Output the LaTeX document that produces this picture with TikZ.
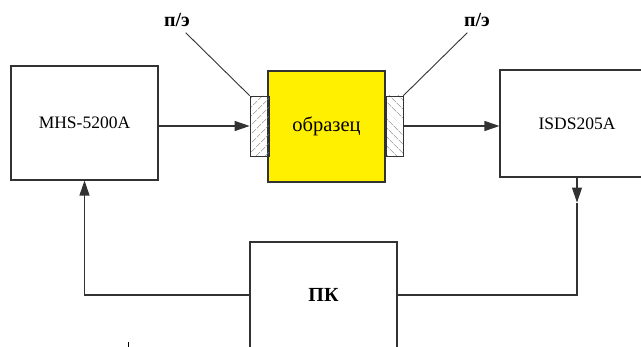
\documentclass[tikz,border=0pt]{standalone}
\usepackage{fontspec}
\setmainfont{Liberation Serif}
\usetikzlibrary{positioning,arrows.meta,patterns.meta}
\definecolor{sampleyellow}{RGB}{255,240,0}
\definecolor{edgegray}{RGB}{50,50,50}
\newcommand{\pelabel}{п/э}

\begin{document}
\begin{tikzpicture}[x=1pt,y=-1pt,
    every node/.style={font=\fontsize{17.5}{20}\selectfont},
    block/.style={draw=edgegray,line width=1.1pt,inner sep=0pt},
    probe/.style={draw=edgegray,line width=0.9pt,inner sep=0pt,minimum height=60pt},
    arr/.style={-{Triangle[length=15pt,width=10pt]},line width=1.1pt,draw=edgegray},
    leader/.style={line width=0.9pt,draw=edgegray},
    pelbl/.style={font=\fontsize{20}{22}\bfseries}]
  \useasboundingbox (0,0) rectangle (641,347);
  \node[block,minimum width=147pt,minimum height=114pt] (gen) at (84.5,123) {MHS-5200A};
  \node[block,fill=sampleyellow,minimum width=117pt,minimum height=111pt,font=\fontsize{20.5}{22}\selectfont] (sample) at (326.5,126.5) {образец};
  \node[probe,minimum width=19pt,pattern={Lines[angle=45,distance=6.5pt,line width=0.7pt]},pattern color=gray] (pel) at (259.5,126) {};
  \node[probe,minimum width=17pt,pattern={Lines[angle=-45,distance=6.5pt,line width=0.7pt]},pattern color=gray] (per) at (394.5,126) {};
  \node[block,minimum width=154pt,minimum height=107pt] (osc) at (577,123.5) {ISDS205A};
  \node[block,minimum width=147pt,minimum height=120pt] (pc) at (323.5,302) {};
  \node[font=\fontsize{20}{22}\bfseries] (pctxt) at (323.5,295) {ПК};
  \node[pelbl] (lblL) at (177,20) {\pelabel};
  \node[pelbl] (lblR) at (477,20) {\pelabel};
  \coordinate (osctip) at ([yshift=-25pt]osc.south);
  \draw[arr] (gen.east |- pel.west) -- (pel.west);
  \draw[arr] (per.east) -- (osc.west |- per.east);
  \draw[arr] (pc.west |- pctxt) -| (gen.south);
  \draw[arr] (osc.south) -- (osctip);
  \draw[line width=1.1pt,draw=edgegray] (osctip) |- (pc.east |- pctxt);
  \draw[leader] (pel.north west) -- ++(-64,-63);
  \draw[leader] (per.north east) -- ++(64,-63);
  \draw[line width=1.2pt] (128.5,342) -- (128.5,347);
\end{tikzpicture}
\end{document}
